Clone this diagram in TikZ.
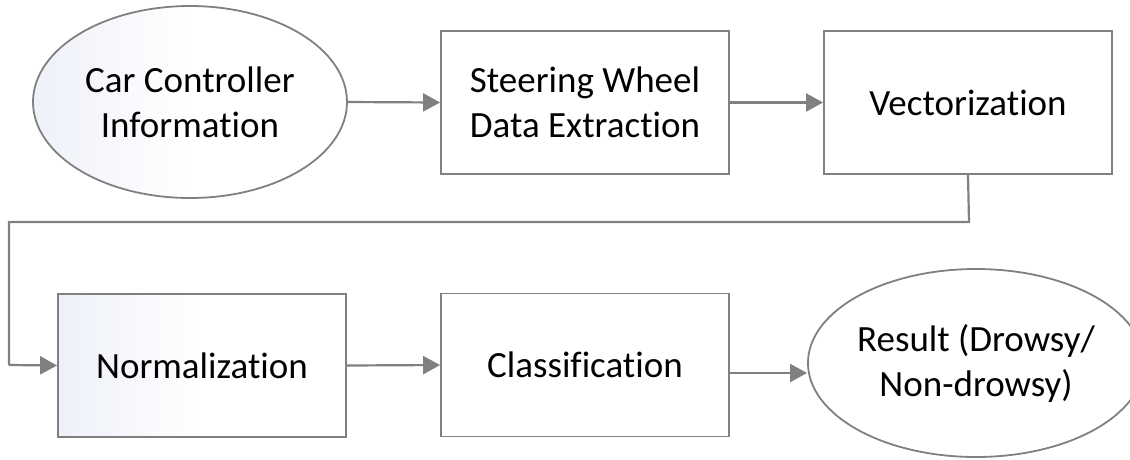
\documentclass[tikz,border=0pt]{standalone}
\usepackage{fontspec}
\setmainfont{Carlito}[Ligatures={NoCommon,NoContextual}]
\usetikzlibrary{shapes.geometric,arrows.meta}
\definecolor{edge}{HTML}{808080}
\definecolor{tint}{HTML}{EEF1F9}
\tikzset{
  x=1pt,y=-1pt,
  base/.style={draw=edge,line width=1.8pt,fill=white,align=center,
    font=\fontsize{37}{45}\selectfont,inner sep=0pt},
  stepbox/.style={base,rectangle,minimum width=288pt,minimum height=143pt},
  oval/.style={base,ellipse},
  tinted/.style={shading=axis,shading angle=-45,left color=tint,right color=white,middle color=white},
  flow/.style={draw=edge,line width=2.2pt,-{Triangle[length=17pt,width=18pt]}}
}
\begin{document}
\begin{tikzpicture}
\useasboundingbox (0,0) rectangle (1130,459);
% first row
\node[oval,tinted,minimum width=314pt,minimum height=192pt] (src) at (190,102) {Car Controller\\Information};
\node[stepbox] (ext) at (585,102.5) {Steering Wheel\\Data Extraction};
\node[stepbox] (vec) at (968,102.5) {Vectorization};
% second row
\node[stepbox,tinted] (norm) at (202,365.5) {Normalization};
\node[stepbox] (cls) at (585,365) {Classification};
\node[oval,minimum width=304pt,minimum height=188pt] (res) at (976,363) {Result (Drowsy/\\Non-drowsy)};
% connectors
\coordinate (turnA) at (969,222);
\coordinate (turnB) at (9,222);
\coordinate (turnC) at (9,365);
\coordinate (clsOut) at ([yshift=-8pt]cls.east);
\draw[flow] (src.east) -- (ext.west);
\draw[flow] (ext.east) -- (vec.west);
\draw[draw=edge,line width=2.2pt] (vec.south) -- (turnA) -- (turnB) -- (turnC);
\draw[flow] (turnC) -- (norm.west);
\draw[flow] (norm.east) -- (cls.west);
\draw[flow] (clsOut) -- (res.west |- clsOut);
\end{tikzpicture}
\end{document}
